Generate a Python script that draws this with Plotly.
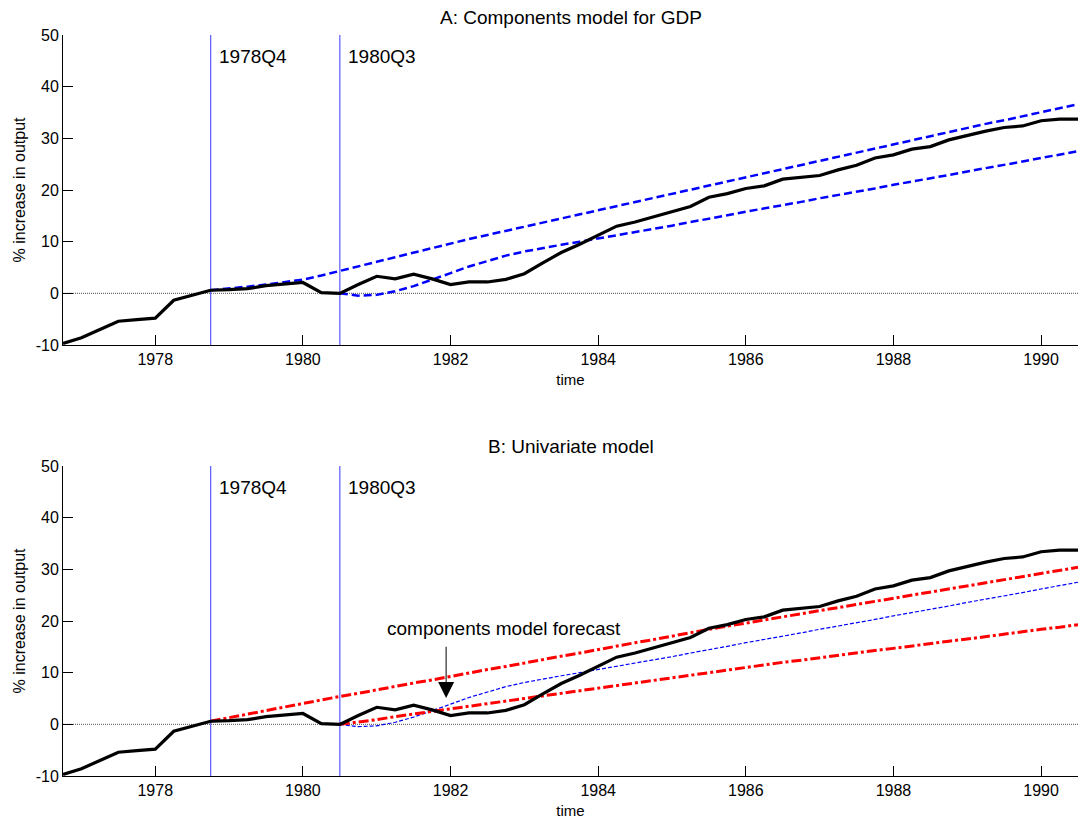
import plotly.graph_objects as go

# ---------------- data ----------------
start_year = 1976.75
quarters = [start_year + 0.25 * i for i in range(56)]          # 1976Q4 .. 1990Q3

actual = [-9.7, -8.6, -7.0, -5.4, -5.1, -4.8, -1.35, -0.4, 0.6,
          0.7, 0.9, 1.5, 1.8, 2.1, 0.15, 0.0, 1.7,
          3.3, 2.8, 3.7, 2.8, 1.7, 2.2, 2.2, 2.7,
          3.8, 5.9, 7.9, 9.5, 11.2, 13.0, 13.8, 14.8,
          15.8, 16.8, 18.6, 19.3, 20.3, 20.8, 22.1, 22.4,
          22.8, 23.9, 24.8, 26.2, 26.8, 27.9, 28.4, 29.7,
          30.6, 31.4, 32.1, 32.4, 33.4, 33.7, 33.7]

# forecasts made in 1978Q4 and in 1980Q3
comp_fc_1978 = [0.6, 0.9, 1.3, 1.7, 2.15, 2.65, 3.45, 4.3, 5.2,
                6.1, 7.0, 7.9, 8.8, 9.6, 10.5, 11.3, 12.1,
                12.9, 13.7, 14.5, 15.3, 16.1, 16.9, 17.7, 18.5,
                19.3, 20.1, 20.9, 21.7, 22.5, 23.3, 24.1, 24.8,
                25.6, 26.4, 27.2, 28.0, 28.8, 29.6, 30.4, 31.2,
                32.0, 32.8, 33.5, 34.3, 35.1, 35.9, 36.6]
comp_fc_1980 = [0.0, -0.45, -0.3, 0.4, 1.4, 2.6, 3.9, 5.2, 6.3,
                7.3, 8.1, 8.8, 9.4, 10.0, 10.6, 11.2, 11.9,
                12.5, 13.1, 13.8, 14.4, 15.1, 15.8, 16.4, 17.1,
                17.7, 18.4, 19.0, 19.7, 20.3, 21.0, 21.6, 22.3,
                22.9, 23.6, 24.2, 24.9, 25.5, 26.2, 26.8, 27.5]
uni_fc_1978 = [0.6, 1.3, 2.0, 2.7, 3.4, 4.0, 4.7, 5.4, 6.0,
               6.7, 7.3, 8.0, 8.6, 9.3, 9.9, 10.6, 11.2,
               11.9, 12.5, 13.2, 13.8, 14.5, 15.1, 15.8, 16.4,
               17.1, 17.7, 18.4, 19.0, 19.6, 20.2, 20.8, 21.4,
               22.0, 22.6, 23.2, 23.8, 24.4, 25.0, 25.6, 26.2,
               26.8, 27.4, 28.0, 28.6, 29.2, 29.8, 30.4]
uni_fc_1980 = [0.0, 0.4, 0.9, 1.5, 2.0, 2.6, 3.1, 3.6, 4.1,
               4.6, 5.1, 5.6, 6.1, 6.6, 7.1, 7.6, 8.1,
               8.6, 9.1, 9.6, 10.1, 10.6, 11.0, 11.5, 12.0,
               12.4, 12.9, 13.3, 13.8, 14.3, 14.7, 15.2, 15.6,
               16.1, 16.5, 17.0, 17.5, 17.9, 18.4, 18.8, 19.3]

origin_dates = [1978.75, 1980.5]
origin_labels = ["1978Q4", "1980Q3"]
x_ticks = [1978, 1980, 1982, 1984, 1986, 1988, 1990]
x_ticktext = ["1978", "1980", "1982", "1984", "1986", "1988", "1990"]
y_ticks = [-10, 0, 10, 20, 30, 40, 50]
y_ticktext = ["-10", "0", "10", "20", "30", "40", "50"]
panel_titles = ["A: Components model for GDP", "B: Univariate model"]
arrow_target = (1981.94, 5.1)
arrow_tail_y = 15.3
arrow_text = "components model forecast"
arrow_text_pos = (1982.73, 18.6)

i78 = quarters.index(origin_dates[0])
i80 = quarters.index(origin_dates[1])
q78 = quarters[i78:]
q80 = quarters[i80:]

FONT = "Liberation Sans, Arial, sans-serif"
W, H = 1084, 819
ML, MR, MT, MB = 63, 6, 35, 43
PH = H - MT - MB

fig = go.Figure()

# ---- panel A
fig.add_trace(go.Scatter(x=q78, y=comp_fc_1978, mode="lines", xaxis="x", yaxis="y",
                         line=dict(color="#0000ff", width=2.5, dash="8px,4px")))
fig.add_trace(go.Scatter(x=q80, y=comp_fc_1980, mode="lines", xaxis="x", yaxis="y",
                         line=dict(color="#0000ff", width=2.5, dash="8px,4px")))
fig.add_trace(go.Scatter(x=quarters, y=actual, mode="lines", xaxis="x", yaxis="y",
                         line=dict(color="black", width=3.2)))

# ---- panel B
fig.add_trace(go.Scatter(x=q80, y=comp_fc_1980, mode="lines", xaxis="x2", yaxis="y2",
                         line=dict(color="#0000ff", width=1.2, dash="4px,2px")))
fig.add_trace(go.Scatter(x=q78, y=uni_fc_1978, mode="lines", xaxis="x2", yaxis="y2",
                         line=dict(color="#ff0000", width=3, dash="10px,3px,3px,3px")))
fig.add_trace(go.Scatter(x=q80, y=uni_fc_1980, mode="lines", xaxis="x2", yaxis="y2",
                         line=dict(color="#ff0000", width=3, dash="10px,3px,3px,3px")))
fig.add_trace(go.Scatter(x=quarters, y=actual, mode="lines", xaxis="x2", yaxis="y2",
                         line=dict(color="black", width=3.2)))

# ---- layout
def frac(px_from_bottom_of_plot):
    return px_from_bottom_of_plot / PH

dom_top = [frac(H - MB - 345), 1.0]
dom_bot = [0.0, frac(H - MB - 466)]

axis_common = dict(showgrid=False, zeroline=False, showline=True, linecolor="black",
                   linewidth=1, ticks="inside", ticklen=10, tickcolor="black",
                   automargin=False,
                   tickfont=dict(family=FONT, size=16, color="black"))

xa = dict(axis_common, range=[quarters[0], quarters[-1]], tickvals=x_ticks,
          ticktext=x_ticktext, domain=[0, 1],
          title=dict(text="time", font=dict(family=FONT, size=15, color="black"), standoff=7))
ya = dict(axis_common, range=[-10, 50], tickvals=y_ticks, ticktext=y_ticktext,
          title=dict(text="% increase in output", font=dict(family=FONT, size=16, color="black"),
                     standoff=6))

fig.update_layout(
    width=W, height=H, margin=dict(l=ML, r=MR, t=MT, b=MB, autoexpand=False),
    paper_bgcolor="white", plot_bgcolor="white", showlegend=False,
    hovermode=False,
    xaxis=dict(xa, anchor="y"),
    yaxis=dict(ya, domain=dom_top, anchor="x"),
    xaxis2=dict(xa, anchor="y2"),
    yaxis2=dict(ya, domain=dom_bot, anchor="x2"),
)

shapes = []
annotations = []
for xr, yr in [("x", "y"), ("x2", "y2")]:
    shapes.append(dict(type="line", xref=xr + " domain", yref=yr, x0=0, x1=1, y0=0, y1=0,
                       line=dict(color="#222222", width=0.8, dash="1px,1px"), layer="below"))
    for d, lab in zip(origin_dates, origin_labels):
        shapes.append(dict(type="line", xref=xr, yref=yr + " domain", x0=d, x1=d, y0=0, y1=1,
                           line=dict(color="#6464ff", width=1.3), layer="below"))
        annotations.append(dict(x=d, y=0.931, xref=xr, yref=yr + " domain", text=lab,
                                showarrow=False, xanchor="left", yanchor="middle", xshift=6,
                                font=dict(family=FONT, size=19, color="black")))

for t, ypx in zip(panel_titles, [18, 447]):
    annotations.append(dict(x=0.5, y=(H - MB - ypx) / PH, xref="x domain", yref="paper",
                            text=t, showarrow=False, xanchor="center", yanchor="middle",
                            font=dict(family=FONT, size=19, color="black")))

annotations.append(dict(x=arrow_text_pos[0], y=arrow_text_pos[1], xref="x2", yref="y2",
                        text=arrow_text, showarrow=False, xanchor="center", yanchor="middle",
                        font=dict(family=FONT, size=19, color="black")))
annotations.append(dict(x=arrow_target[0], y=arrow_target[1], xref="x2", yref="y2",
                        ax=arrow_target[0], ay=arrow_tail_y, axref="x2", ayref="y2",
                        text="", showarrow=True, arrowhead=2, arrowsize=3.2, arrowwidth=1,
                        arrowcolor="black", standoff=0))

fig.update_layout(shapes=shapes, annotations=annotations)
fig.write_html("out.html", config={"displayModeBar": False})
